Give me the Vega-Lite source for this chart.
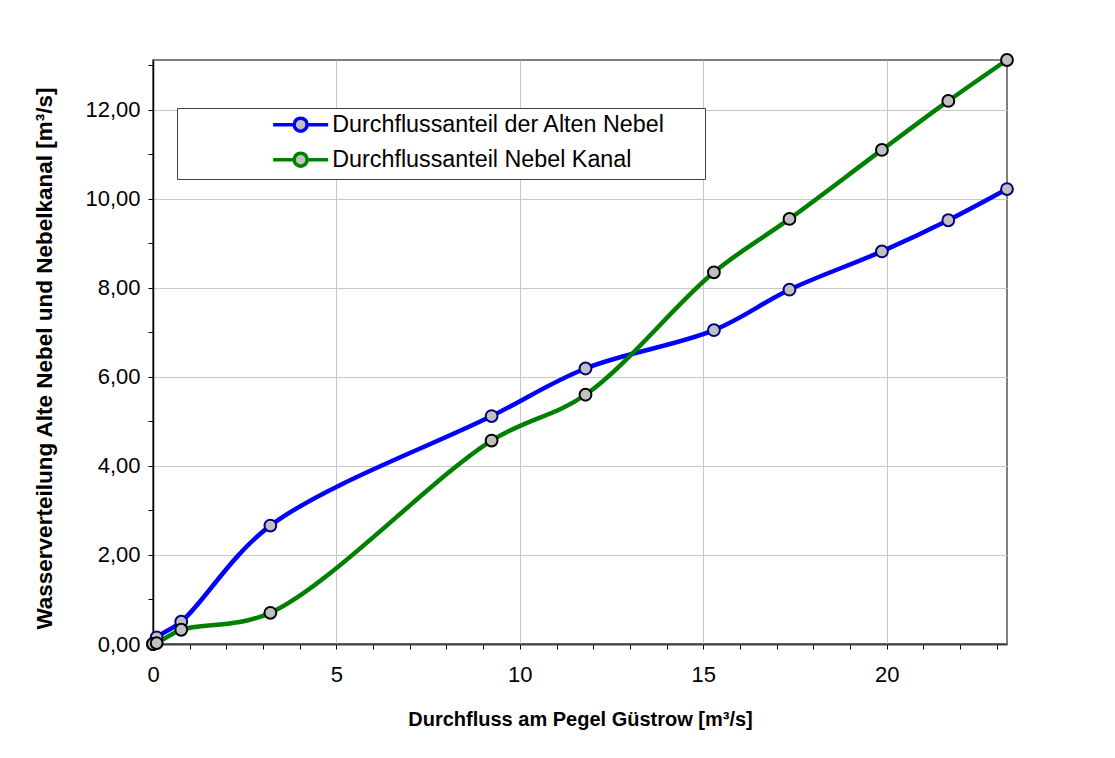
{
  "$schema": "https://vega.github.io/schema/vega-lite/v6.json",
  "width": 854,
  "height": 584,
  "autosize": "none",
  "padding": {"left": 153, "top": 60, "right": 108, "bottom": 114},
  "background": "#ffffff",
  "config": {
    "font": "Liberation Sans",
    "view": {"stroke": "#808080", "strokeWidth": 2},
    "axis": {"labelFont": "Liberation Sans", "titleFont": "Liberation Sans", "labelColor": "#000000", "titleColor": "#000000"}
  },
  "data": {
    "values": [
      {"x": 0, "y": 0, "series": "Durchflussanteil der Alten Nebel"},
      {"x": 0.1, "y": 0.15, "series": "Durchflussanteil der Alten Nebel"},
      {"x": 0.77, "y": 0.5, "series": "Durchflussanteil der Alten Nebel"},
      {"x": 3.2, "y": 2.66, "series": "Durchflussanteil der Alten Nebel"},
      {"x": 9.23, "y": 5.12, "series": "Durchflussanteil der Alten Nebel"},
      {"x": 11.79, "y": 6.19, "series": "Durchflussanteil der Alten Nebel"},
      {"x": 15.29, "y": 7.05, "series": "Durchflussanteil der Alten Nebel"},
      {"x": 17.35, "y": 7.96, "series": "Durchflussanteil der Alten Nebel"},
      {"x": 19.87, "y": 8.82, "series": "Durchflussanteil der Alten Nebel"},
      {"x": 21.68, "y": 9.52, "series": "Durchflussanteil der Alten Nebel"},
      {"x": 23.28, "y": 10.22, "series": "Durchflussanteil der Alten Nebel"},
      {"x": 0, "y": 0, "series": "Durchflussanteil Nebel Kanal"},
      {"x": 0.1, "y": 0.02, "series": "Durchflussanteil Nebel Kanal"},
      {"x": 0.77, "y": 0.32, "series": "Durchflussanteil Nebel Kanal"},
      {"x": 3.2, "y": 0.7, "series": "Durchflussanteil Nebel Kanal"},
      {"x": 9.23, "y": 4.57, "series": "Durchflussanteil Nebel Kanal"},
      {"x": 11.79, "y": 5.6, "series": "Durchflussanteil Nebel Kanal"},
      {"x": 15.29, "y": 8.35, "series": "Durchflussanteil Nebel Kanal"},
      {"x": 17.35, "y": 9.55, "series": "Durchflussanteil Nebel Kanal"},
      {"x": 19.87, "y": 11.1, "series": "Durchflussanteil Nebel Kanal"},
      {"x": 21.68, "y": 12.2, "series": "Durchflussanteil Nebel Kanal"},
      {"x": 23.28, "y": 13.12, "series": "Durchflussanteil Nebel Kanal"}
    ]
  },
  "encoding": {
    "x": {
      "field": "x", "type": "quantitative",
      "scale": {"domain": [0, 23.28], "nice": false, "zero": false},
      "axis": {
        "title": "Durchfluss am Pegel Güstrow [m³/s]",
        "values": [0,1,2,3,4,5,6,7,8,9,10,11,12,13,14,15,16,17,18,19,20,21,22,23],
        "labelExpr": "datum.value % 5 === 0 ? format(datum.value, 'd') : ''",
        "labelFontSize": 22, "labelPadding": 15, "labelFlush": false,
        "tickSize": 5, "tickColor": "#000000",
        "domainColor": "#404040", "domainWidth": 2,
        "gridColor": "#c8c8c8",
        "gridOpacity": {"condition": {"test": "datum.value % 5 === 0 && datum.value > 0", "value": 1}, "value": 0},
        "titleFontSize": 20, "titleFontWeight": "bold", "titleY": 75, "titleBaseline": "middle"
      }
    },
    "y": {
      "field": "y", "type": "quantitative",
      "scale": {"domain": [0, 13.12], "nice": false, "zero": false},
      "axis": {
        "title": "Wasserverteilung Alte Nebel und Nebelkanal [m³/s]",
        "values": [0,1,2,3,4,5,6,7,8,9,10,11,12,13],
        "labelExpr": "datum.value % 2 === 0 ? replace(format(datum.value, '.2f'), '.', ',') : ''",
        "labelFontSize": 22, "labelPadding": 8, "labelFlush": false,
        "tickSize": 5, "tickColor": "#000000",
        "domainColor": "#000000", "domainWidth": 1.5,
        "gridColor": "#c8c8c8",
        "gridOpacity": {"condition": {"test": "datum.value % 2 === 0 && datum.value > 0", "value": 1}, "value": 0},
        "titleFontSize": 22.5, "titleFontWeight": "bold", "titleX": -109, "titleY": 298, "titleBaseline": "middle"
      }
    }
  },
  "layer": [
    {
      "mark": {"type": "line", "interpolate": "catmull-rom", "strokeWidth": 4.5},
      "encoding": {
        "stroke": {
          "field": "series", "type": "nominal",
          "scale": {"domain": ["Durchflussanteil der Alten Nebel", "Durchflussanteil Nebel Kanal"], "range": ["#0000ff", "#008000"]},
          "legend": {
            "title": null,
            "orient": "none",
            "legendX": 24,
            "legendY": 48,
            "strokeColor": "#404040",
            "fillColor": "#ffffff",
            "padding": 5,
            "rowPadding": 7,
            "symbolOffset": 107,
            "symbolType": "M-3.4375,0L-0.8125,0M0.8125,0L3.4375,0M0.8125,0A0.8125,0.8125,0,1,1,-0.8125,0A0.8125,0.8125,0,1,1,0.8125,0Z",
            "symbolSize": 256,
            "symbolStrokeWidth": 3.5,
            "symbolFillColor": "#c0c0c0",
            "labelFontSize": 23.3,
            "labelFont": "Liberation Sans",
            "labelColor": "#000000",
            "labelOffset": 20,
            "labelLimit": 700,
            "labelExpr": "datum.label + '\u2800\u2800'"
          }
        }
      }
    },
    {
      "mark": {"type": "point", "filled": true, "size": 140, "strokeWidth": 2, "fill": "#c0c0c0", "fillOpacity": 1, "opacity": 1},
      "encoding": {
        "stroke": {
          "condition": {"test": "datum.series === 'Durchflussanteil der Alten Nebel'", "value": "#000080"},
          "value": "#000000"
        }
      }
    }
  ]
}
